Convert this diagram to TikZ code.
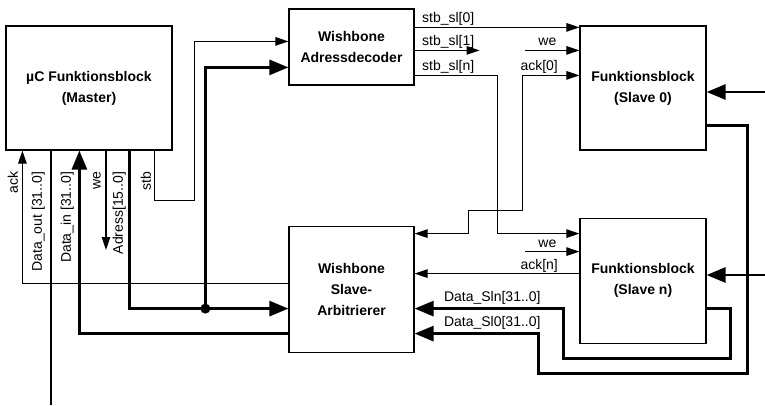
\documentclass[tikz,border=0pt]{standalone}
\usepackage{fontspec}
\setmainfont{Liberation Sans}
\usetikzlibrary{calc, positioning, arrows.meta}

\begin{document}
\begin{tikzpicture}[
    x=1pt, y=-1pt,
    block/.style={draw, line width=1.2pt, align=center, inner sep=2pt,
      font=\fontsize{14}{21}\selectfont\bfseries},
    sig/.style={line width=1.1pt},
    bus/.style={line width=2.8pt},
    lbl/.style={font=\fontsize{14}{16}\selectfont, inner sep=1pt, text depth=3pt},
    vlbl/.style={lbl, rotate=90, anchor=east},
    stip/.tip={Triangle[length=13pt, width=8.5pt]},
    btip/.tip={Triangle[length=19pt, width=15pt]},
  ]
    \useasboundingbox (0,0) rectangle (765,406);

    % blocks
    \node[block, minimum width=166pt, minimum height=124pt] (master) at (89,88) {µC Funktionsblock\\(Master)};
    \node[block, minimum width=125pt, minimum height=76pt] (dec) at (351.5,47) {Wishbone\\Adressdecoder};
    \node[block, minimum width=125pt, minimum height=126pt, below=140pt of dec] (arb) {Wishbone\\Slave-\\Arbitrierer};
    \node[block, minimum width=126pt, minimum height=124pt] (sl0) at (643,88) {Funktionsblock\\(Slave 0)};
    \node[block, minimum width=126pt, minimum height=125pt, below=67pt of sl0] (sln) {Funktionsblock\\(Slave n)};

    % free ends
    \coordinate (dout) at (51,405);
    \coordinate (weend) at (106,250);
    \coordinate (jn) at ($(arb.north west)+(-83,83)$);
    \coordinate (we0) at ($(sl0.north west)+(-54,25)$);
    \coordinate (wen) at ($(sln.north west)+(-54,34)$);
    \coordinate (ext0) at (765,92);
    \coordinate (extn) at (765,275);

    % master signals
    \draw[sig,-stip] ($(arb.north west)+(0,58)$) -| ($(master.south west)+(17,0)$);
    \draw[bus] (master.south -| dout) -- (dout);
    \draw[bus,-btip] ($(arb.north west)+(0,108)$) -| ($(master.south west)+(74,0)$);
    \draw[sig,-stip] (master.south -| weend) -- (weend);
    \draw[bus,-btip] ($(master.south west)+(124,0)$) |- ($(arb.north west)+(0,83)$);
    \fill (jn) circle[radius=5pt];
    \draw[bus,-btip] (jn) |- ($(dec.north west)+(0,59)$);
    \draw[sig,-stip] ($(master.south west)+(149,0)$) |- ++(40,50) |- ($(dec.north west)+(0,33)$);

    \node[vlbl] at ($(master.south west)+(9,20)$) {ack};
    \node[vlbl] at ($(master.south west)+(33,20)$) {Data\_out [31..0]};
    \node[vlbl] at ($(master.south west)+(62,20)$) {Data\_in [31..0]};
    \node[vlbl] at ($(master.south west)+(93,20)$) {we};
    \node[vlbl] at ($(master.south west)+(114,20)$) {Adress[15..0]};
    \node[vlbl] at ($(master.south west)+(142,20)$) {stb};

    % decoder outputs
    \draw[sig,-stip] ($(dec.north east)+(0,19)$) -- node[lbl, anchor=south west, pos=0, xshift=6pt] {stb\_sl[0]} ($(sl0.north west)+(0,2)$);
    \draw[sig,-stip] ($(dec.north east)+(0,42)$) -- node[lbl, anchor=south west, pos=0, xshift=6pt] {stb\_sl[1]} ++(65,0);
    \draw[sig,-stip] ($(dec.north east)+(0,67)$) -- node[lbl, anchor=south west, pos=0, xshift=6pt] {stb\_sl[n]} ++(83,0) |- ($(sln.north west)+(0,16)$);

    % slave signals
    \draw[sig,-stip] (we0) -- node[lbl, above, xshift=-5pt] {we} (sl0.west |- we0);
    \draw[sig,stip-stip] ($(arb.north east)+(0,8)$) -- ++(54,0) |- ++(54,-23) |- node[lbl, anchor=south east, pos=1, xshift=-20pt] {ack[0]} ($(sl0.north west)+(0,50)$);
    \draw[sig,-stip] (wen) -- node[lbl, above, xshift=-5pt] {we} (sln.west |- wen);
    \draw[sig,-stip] ($(sln.north west)+(0,56)$) -- node[lbl, anchor=south east, pos=0, xshift=-20pt] {ack[n]} ($(arb.north east)+(0,48)$);

    % data back to arbiter
    \draw[bus,-btip] ($(sln.north east)+(0,91)$) -- ++(24,0) |- ++(-167,50) |- node[lbl, anchor=south west, pos=1, xshift=27pt, yshift=1.5pt] {Data\_Sln[31..0]} ($(arb.north east)+(0,83)$);
    \draw[bus,-btip] ($(sl0.north east)+(0,100)$) -- ++(41,0) |- ++(-209,248) |- node[lbl, anchor=south west, pos=1, xshift=27pt, yshift=1.5pt] {Data\_Sl0[31..0]} ($(arb.north east)+(0,108)$);

    % external inputs
    \draw[bus,-btip] (ext0) -- (sl0.east |- ext0);
    \draw[bus,-btip] (extn) -- (sln.east |- extn);
\end{tikzpicture}
\end{document}
